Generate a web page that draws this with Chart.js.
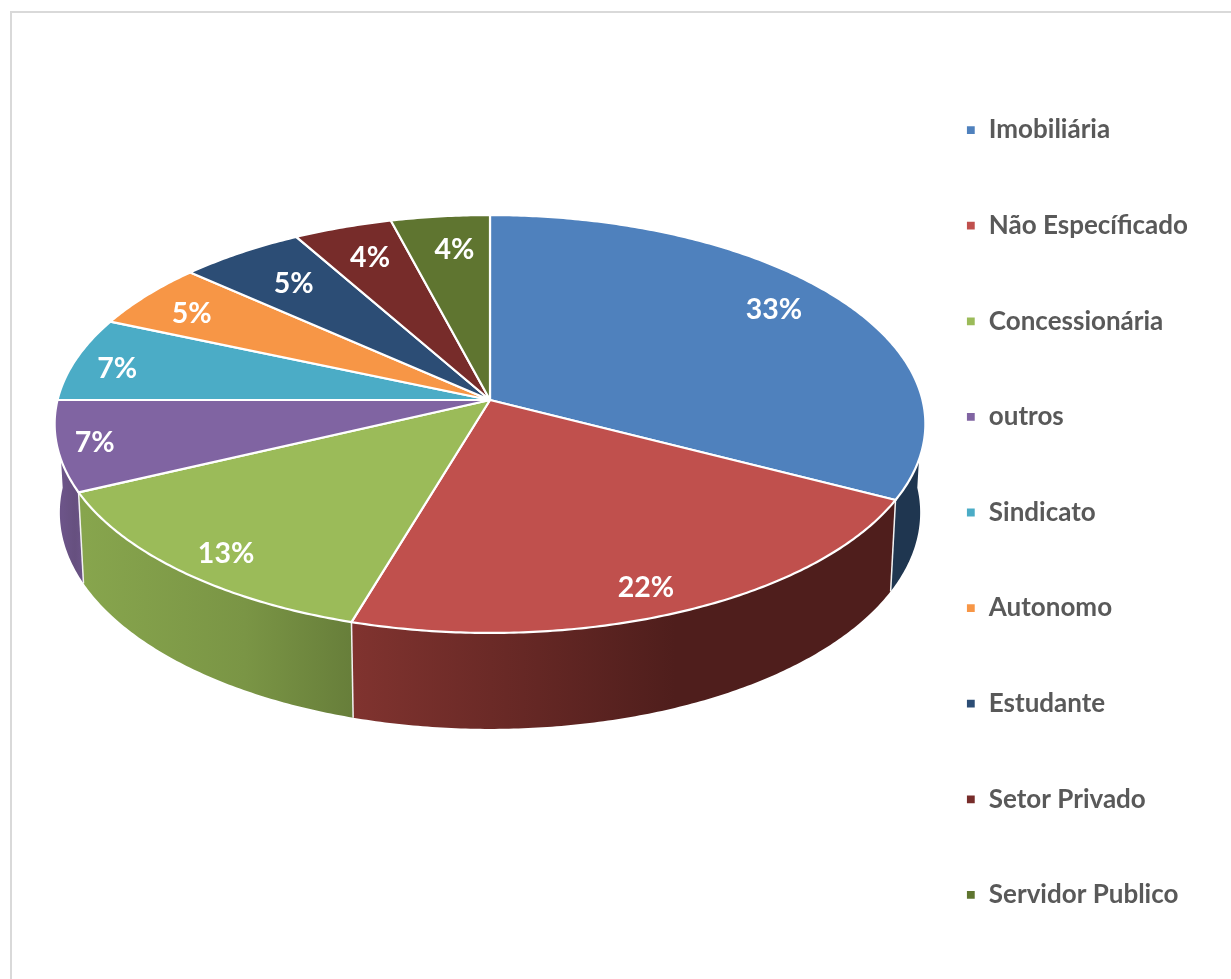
<!DOCTYPE html>
<html><head><meta charset="utf-8">
<style>
html,body{margin:0;padding:0;background:#fff;overflow:hidden}
#frame{position:absolute;left:10px;top:11px;right:0;bottom:0;border-top:2px solid #d9d9d9;border-left:2px solid #d9d9d9}
canvas{position:absolute;left:0;top:0}
</style>
<script src="https://cdn.jsdelivr.net/npm/chart.js@4"></script>
</head><body><div id="frame"></div><canvas id="c" width="1231" height="979"></canvas>
<script>
const categories=["Imobiliária","Não Específicado","Concessionária","outros","Sindicato","Autonomo","Estudante","Setor Privado","Servidor Publico"];
const shares=[32.6,22,13.4,7,6.5,5.1,5.2,4.1,4.1];
const topColors=["#4f81bd","#c0504d","#9bbb59","#8064a2","#4bacc6","#f79646","#2c4d75","#772c2a","#5f7530"];
const wallColors=[["#1f3650","#1f3650","#1f3650"],["#80332f","#4f1e1c","#4f1e1c"],["#87a54d","#7a9545","#677e3a"],["#6c5488","#66507f","#6c5488"],["#2e7d8c","#2e7d8c","#2e7d8c"],["#b86a2a","#b86a2a","#b86a2a"],["#1f3650","#1f3650","#1f3650"],["#55201e","#55201e","#55201e"],["#465722","#465722","#465722"]];
const labelNudge=[[-5,-6],[4,17],[-15,16],[-42,5],[-32,2],[-14,0],[11,6],[3,2],[6,3]];

// perspective view of the pie disc
const view={cx:490,cy:400,bx:432.5,by:206.2,p:-0.1148,rimX:0.988,rimY:1.035,rimDrop:87.8,labelAt:0.82};
function project(t,r=1){
  const X=Math.cos(t)*r,Y=Math.sin(t)*r,d=1+view.p*Y;
  return {x:view.cx+view.bx*X/d,y:view.cy+view.by*Y/d};
}
function rim(t){
  const q=project(t);
  return {x:view.cx+(q.x-view.cx)*view.rimX,y:view.cy+(q.y-view.cy)*view.rimY+view.rimDrop};
}
function angles(a,b,f){const n=Math.max(2,Math.ceil(Math.abs(b-a)/0.01));for(let i=0;i<=n;i++)f(a+(b-a)*i/n);}

// every slice element is drawn by Chart.js through this projected path
Chart.ArcElement.prototype.draw=function(ctx){
  const {startAngle,endAngle}=this.getProps(['startAngle','endAngle']);
  const o=this.options;
  ctx.save();
  ctx.beginPath();
  ctx.moveTo(view.cx,view.cy);
  angles(startAngle,endAngle,t=>{const q=project(t);ctx.lineTo(q.x,q.y);});
  ctx.closePath();
  ctx.fillStyle=o.backgroundColor;ctx.fill();
  ctx.lineWidth=o.borderWidth;ctx.strokeStyle=o.borderColor;ctx.lineJoin='round';ctx.stroke();
  ctx.restore();
};

const walls={id:'walls',beforeDatasetsDraw(chart){
  const ctx=chart.ctx,arcs=chart.getDatasetMeta(0).data,lo=0,hi=Math.PI;
  arcs.forEach((arc,i)=>{
    const a=Math.max(arc.startAngle,lo),b=Math.min(arc.endAngle,hi);
    if(b<=a)return;
    const x0=rim(b).x,x1=rim(a).x;
    const g=ctx.createLinearGradient(Math.min(x0,x1),0,Math.max(x0,x1),0);
    const s=wallColors[i];
    g.addColorStop(0,s[0]);g.addColorStop(0.6,s[1]);g.addColorStop(1,s[2]);
    ctx.save();
    ctx.beginPath();
    angles(a,b,t=>{const q=project(t);ctx.lineTo(q.x,q.y);});
    angles(b,a,t=>{const q=rim(t);ctx.lineTo(q.x,q.y);});
    ctx.closePath();
    ctx.fillStyle=g;ctx.fill();
    ctx.restore();
  });
  arcs.forEach(arc=>{
    const t=arc.endAngle;
    if(t<=lo||t>=hi)return;
    const p=project(t),q=rim(t);
    ctx.save();ctx.beginPath();ctx.moveTo(p.x,p.y);ctx.lineTo(q.x,q.y);
    ctx.strokeStyle='#f2f2f2';ctx.lineWidth=1.5;ctx.stroke();ctx.restore();
  });
}};

const labels={id:'sliceLabels',afterDatasetsDraw(chart){
  const ctx=chart.ctx,ds=chart.data.datasets[0].data,total=ds.reduce((s,v)=>s+v,0);
  ctx.save();
  ctx.font='bold 28.5px Lato';ctx.fillStyle='#fff';ctx.textAlign='center';ctx.textBaseline='middle';
  chart.getDatasetMeta(0).data.forEach((arc,i)=>{
    const q=project((arc.startAngle+arc.endAngle)/2,view.labelAt);
    ctx.fillText(Math.round(ds[i]/total*100)+'%',q.x+labelNudge[i][0],q.y+labelNudge[i][1]);
  });
  ctx.restore();
}};

new Chart(document.getElementById('c'),{
  type:'pie',
  data:{labels:categories,datasets:[{data:shares,backgroundColor:topColors,borderColor:'#ffffff',borderWidth:2.2}]},
  plugins:[walls,labels],
  options:{
    responsive:false,animation:false,devicePixelRatio:1,
    layout:{padding:{top:46,right:33}},
    plugins:{
      tooltip:{enabled:false},
      legend:{position:'right',
        labels:{boxWidth:10,boxHeight:10,padding:69.6,color:'#595959',font:{family:'Lato',size:26,weight:'bold'}}}
    }
  }
});
</script></body></html>
